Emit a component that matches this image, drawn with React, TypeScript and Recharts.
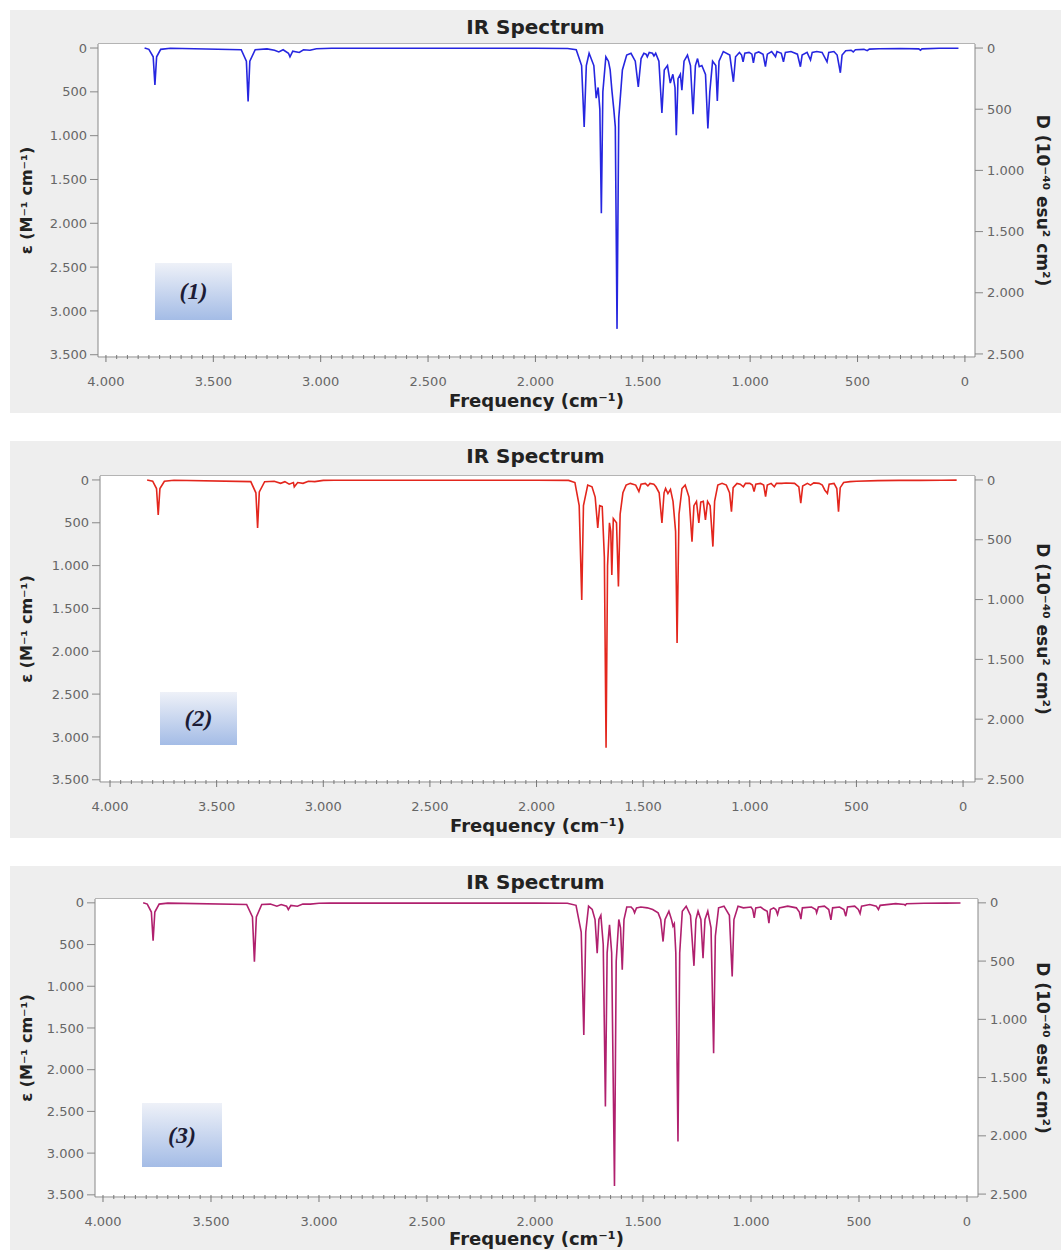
import { LineChart, Line, XAxis, YAxis } from "recharts";

// frequency (cm-1) / epsilon pairs, high to low frequency
const spectrum1: [number, number][] = [
  [3820, 0], [3800, 15], [3780, 100], [3772, 420], [3764, 100], [3745, 15], [3700, 2],
  [3370, 20], [3346, 150], [3338, 610], [3330, 150], [3305, 20],
  [3250, 10], [3215, 25], [3195, 45], [3175, 20], [3150, 60], [3143, 100], [3130, 35], [3100, 50], [3080, 20], [3050, 25], [3020, 8], [2950, 3],
  [2000, 3], [1850, 5],
  [1810, 20], [1785, 200], [1773, 900], [1763, 200], [1750, 60], [1728, 200], [1717, 572], [1708, 450], [1700, 700], [1693, 1884], [1686, 500],
  [1672, 100], [1660, 150], [1652, 250], [1644, 480], [1635, 700], [1628, 900], [1620, 3205], [1612, 800], [1595, 250], [1575, 80], [1555, 60],
  [1535, 150], [1521, 443], [1508, 120], [1495, 60], [1485, 70], [1479, 100], [1470, 50], [1455, 60], [1448, 90], [1440, 60],
  [1425, 150], [1411, 740], [1400, 250], [1385, 200], [1372, 400], [1360, 300], [1350, 450], [1344, 995], [1336, 350], [1325, 300], [1318, 480], [1308, 150],
  [1292, 80], [1278, 200], [1266, 755], [1255, 200], [1245, 120], [1237, 213], [1225, 200], [1208, 300], [1197, 919], [1188, 500], [1175, 150],
  [1160, 200], [1153, 603], [1145, 150], [1125, 40], [1095, 80], [1078, 385], [1068, 100], [1050, 50], [1040, 80], [1033, 157], [1025, 60],
  [1005, 50], [992, 70], [985, 170], [977, 60], [960, 45], [940, 70], [929, 213], [920, 70], [900, 40], [888, 80], [882, 100], [875, 40],
  [855, 60], [845, 157], [836, 50], [810, 40], [780, 70], [766, 213], [758, 80], [735, 50], [719, 137], [711, 50], [690, 40], [665, 50],
  [642, 157], [634, 50], [610, 40], [595, 80], [580, 282], [572, 80], [555, 30], [530, 25], [520, 45], [510, 20], [470, 15], [455, 30],
  [445, 12], [400, 8], [300, 5], [215, 10], [207, 25], [200, 10], [120, 3], [30, 2],
];

const spectrum2: [number, number][] = [
  [3826, 0], [3800, 15], [3782, 100], [3774, 408], [3766, 100], [3745, 15], [3700, 3],
  [3340, 20], [3316, 150], [3308, 560], [3300, 140], [3275, 20],
  [3230, 15], [3200, 40], [3180, 20], [3160, 50], [3140, 30], [3136, 80], [3120, 30], [3095, 40], [3070, 15], [3040, 20], [3000, 5], [2950, 3],
  [2000, 3], [1850, 5],
  [1820, 30], [1800, 300], [1788, 1400], [1780, 300], [1760, 60], [1740, 80], [1725, 200], [1713, 560], [1704, 300], [1692, 311],
  [1682, 900], [1674, 3127], [1667, 1000], [1658, 500], [1652, 600], [1647, 1108], [1640, 450], [1625, 500], [1616, 1245], [1608, 400],
  [1595, 150], [1580, 60], [1560, 40], [1535, 60], [1520, 136], [1510, 50], [1490, 40], [1478, 70], [1468, 40], [1450, 50], [1440, 80],
  [1425, 150], [1412, 502], [1402, 150], [1395, 100], [1384, 160], [1372, 110], [1360, 250], [1348, 600], [1341, 1903], [1332, 400],
  [1318, 100], [1303, 60], [1285, 200], [1271, 720], [1262, 300], [1250, 250], [1239, 502], [1230, 260], [1218, 250], [1208, 467],
  [1198, 250], [1186, 300], [1173, 778], [1165, 250], [1150, 60], [1130, 40], [1110, 60], [1095, 150], [1086, 370], [1078, 90],
  [1060, 40], [1045, 50], [1030, 80], [1020, 40], [1000, 40], [988, 60], [980, 136], [972, 50], [950, 40], [935, 60], [926, 195], [918, 60],
  [900, 40], [885, 80], [875, 40], [850, 40], [830, 35], [790, 40], [770, 80], [761, 272], [752, 70], [730, 40], [715, 60], [700, 35],
  [675, 40], [660, 60], [648, 120], [636, 156], [628, 50], [605, 40], [592, 100], [584, 370], [576, 90], [560, 30], [530, 20], [500, 15],
  [400, 8], [300, 5], [200, 5], [100, 3], [30, 2],
];

const spectrum3: [number, number][] = [
  [3814, 0], [3795, 15], [3776, 110], [3768, 455], [3760, 110], [3740, 15], [3700, 3],
  [3335, 20], [3308, 170], [3299, 707], [3290, 170], [3265, 20],
  [3225, 15], [3195, 40], [3175, 20], [3150, 40], [3142, 80], [3130, 30], [3100, 40], [3075, 15], [3040, 15], [3000, 5], [2950, 3],
  [2000, 3], [1850, 5],
  [1810, 30], [1786, 350], [1774, 1583], [1765, 350], [1752, 40], [1735, 80], [1722, 200], [1712, 603], [1704, 200], [1695, 150],
  [1684, 500], [1674, 2442], [1666, 600], [1655, 264], [1645, 600], [1632, 3393], [1624, 700], [1612, 200], [1604, 300], [1596, 803],
  [1588, 200], [1575, 50], [1555, 50], [1545, 80], [1539, 120], [1530, 60], [1510, 50], [1480, 60], [1455, 80], [1430, 120],
  [1418, 200], [1407, 464], [1398, 200], [1380, 100], [1368, 200], [1361, 280], [1355, 250], [1348, 600], [1338, 2862], [1330, 600],
  [1318, 100], [1300, 40], [1280, 150], [1264, 755], [1255, 200], [1245, 100], [1232, 200], [1222, 663], [1213, 200], [1200, 100],
  [1185, 300], [1173, 1802], [1165, 400], [1150, 60], [1125, 40], [1100, 150], [1087, 883], [1079, 200], [1060, 40], [1035, 60],
  [1000, 50], [992, 80], [985, 180], [978, 60], [955, 50], [940, 80], [925, 100], [917, 243], [910, 80], [895, 60], [885, 80], [877, 140],
  [869, 60], [830, 40], [790, 60], [776, 110], [769, 196], [762, 60], [720, 50], [700, 80], [696, 120], [688, 50], [660, 40], [640, 80],
  [630, 204], [622, 60], [590, 50], [570, 80], [561, 160], [553, 50], [520, 40], [503, 80], [495, 128], [488, 40], [450, 20], [420, 40],
  [410, 80], [402, 30], [330, 10], [290, 20], [286, 30], [280, 10], [200, 5], [100, 3], [30, 2],
];

const freqTicks = [0, 500, 1000, 1500, 2000, 2500, 3000, 3500, 4000];
const epsTicks = [0, 500, 1000, 1500, 2000, 2500, 3000, 3500];
const dTicks = [0, 500, 1000, 1500, 2000, 2500];
const minorTicks = Array.from({ length: 81 }, (_, i) => i * 50);

const font = "'DejaVu Sans', Verdana, sans-serif";

const fmt = (v: number) =>
  v >= 1000 ? `${Math.floor(v / 1000)}.${String(v % 1000).padStart(3, "0")}` : String(v);

function FreqTick(props: any) {
  const { x, y, payload } = props;
  const v = payload.value as number;
  const major = freqTicks.includes(v);
  return (
    <g>
      <line x1={x} x2={x} y1={y - 2} y2={y + (major ? 5 : 2)} stroke="#777" />
      {major && (
        <text x={x} y={y + 29} textAnchor="middle" fill="#666" fontSize={13} fontFamily={font}>
          {fmt(v)}
        </text>
      )}
    </g>
  );
}

type PanelProps = {
  top: number;
  height: number;
  plot: [number, number, number, number]; // left, top, right, bottom in page coords
  xDomain: [number, number];
  data: [number, number][];
  color: string;
  tag: string;
  tagBox: [number, number, number, number];
  titleY: number;
  xLabelOffset: number;
};

function Panel({ top, height, plot, xDomain, data, color, tag, tagBox, titleY, xLabelOffset }: PanelProps) {
  const [pl, pt, pr, pb] = plot;
  const left = 10;
  const width = 1051;
  const rows = data.map(([f, e]) => ({ f, e }));
  return (
    <div style={{ position: "absolute", left, top, width, height, background: "#eeeeee" }}>
      <div
        style={{
          position: "absolute",
          left: pl - left,
          top: pt - top - 1,
          width: pr - pl,
          height: pb - pt + 1,
          background: "#fff",
          borderTop: "1px solid #b4b4b4",
        }}
      />
      <div
        style={{
          position: "absolute",
          left: 0,
          width,
          top: titleY - top - 12,
          textAlign: "center",
          fontFamily: font,
          fontWeight: "bold",
          fontSize: 20,
          color: "#222",
          lineHeight: "24px",
        }}
      >
        IR Spectrum
      </div>
      <div style={{ position: "absolute", left: 0, top: 0 }}>
        <LineChart width={width} height={height} data={rows} margin={{ top: pt - top, right: 0, bottom: 0, left: 0 }}>
          <XAxis
            dataKey="f"
            type="number"
            domain={xDomain}
            allowDataOverflow
            reversed
            ticks={minorTicks}
            interval={0}
            tick={<FreqTick />}
            tickSize={0}
            tickMargin={0}
            tickLine={false}
            axisLine={{ stroke: "#888" }}
            height={top + height - pb}
            label={{
              value: "Frequency (cm⁻¹)",
              position: "insideBottom",
              offset: xLabelOffset,
              style: { fontFamily: font, fontWeight: "bold", fontSize: 18, fill: "#222" },
            }}
          />
          <YAxis
            yAxisId="eps"
            type="number"
            domain={[-46, 3526]}
            allowDataOverflow
            reversed
            ticks={epsTicks}
            interval={0}
            tickFormatter={fmt}
            width={pl - left}
            tickSize={8}
            tickMargin={3}
            axisLine={{ stroke: "#888" }}
            tickLine={{ stroke: "#888" }}
            tick={{ fill: "#666", fontSize: 13, fontFamily: font }}
            label={{
              value: "ε (M⁻¹ cm⁻¹)",
              angle: -90,
              position: "insideLeft",
              offset: 16,
              style: { textAnchor: "middle", fontFamily: font, fontWeight: "bold", fontSize: 16, fill: "#222" },
            }}
          />
          <YAxis
            yAxisId="d"
            orientation="right"
            type="number"
            domain={[-33, 2525]}
            allowDataOverflow
            reversed
            ticks={dTicks}
            interval={0}
            tickFormatter={fmt}
            width={left + width - pr}
            tickSize={8}
            tickMargin={4}
            axisLine={{ stroke: "#888" }}
            tickLine={{ stroke: "#888" }}
            tick={{ fill: "#666", fontSize: 13, fontFamily: font }}
            label={{
              value: "D (10⁻⁴⁰ esu² cm²)",
              angle: 90,
              position: "insideRight",
              offset: 18,
              style: { textAnchor: "middle", fontFamily: font, fontWeight: "bold", fontSize: 17, fill: "#222" },
            }}
          />
          <Line
            yAxisId="eps"
            type="linear"
            dataKey="e"
            stroke={color}
            strokeWidth={1.6}
            dot={false}
            activeDot={false}
            isAnimationActive={false}
          />
        </LineChart>
      </div>
      <div
        style={{
          position: "absolute",
          left: tagBox[0] - left,
          top: tagBox[1] - top,
          width: tagBox[2],
          height: tagBox[3],
          background: "linear-gradient(to bottom, #eef1f8, #a4bce6)",
          display: "flex",
          alignItems: "center",
          justifyContent: "center",
          fontFamily: "'Liberation Serif', 'Times New Roman', serif",
          fontStyle: "italic",
          fontWeight: "bold",
          fontSize: 24,
          color: "#1c1c36",
        }}
      >
        {tag}
      </div>
    </div>
  );
}

export default function App() {
  return (
    <div style={{ position: "absolute", left: 0, top: 0, width: 1061, height: 1250, background: "#fff" }}>
      <Panel
        top={10}
        height={403}
        plot={[98, 44, 975, 357]}
        xDomain={[-47, 4037]}
        data={spectrum1}
        color="#2626e0"
        tag="(1)"
        tagBox={[155, 263, 77, 57]}
        titleY={27}
        xLabelOffset={6}
      />
      <Panel
        top={441}
        height={397}
        plot={[100, 476, 975, 782]}
        xDomain={[-56, 4047]}
        data={spectrum2}
        color="#e3261d"
        tag="(2)"
        tagBox={[160, 692, 77, 53]}
        titleY={456}
        xLabelOffset={6}
      />
      <Panel
        top={866}
        height={384}
        plot={[95, 899, 978, 1197]}
        xDomain={[-51, 4037]}
        data={spectrum3}
        color="#b0206e"
        tag="(3)"
        tagBox={[142, 1103, 80, 64]}
        titleY={882}
        xLabelOffset={5}
      />
    </div>
  );
}
